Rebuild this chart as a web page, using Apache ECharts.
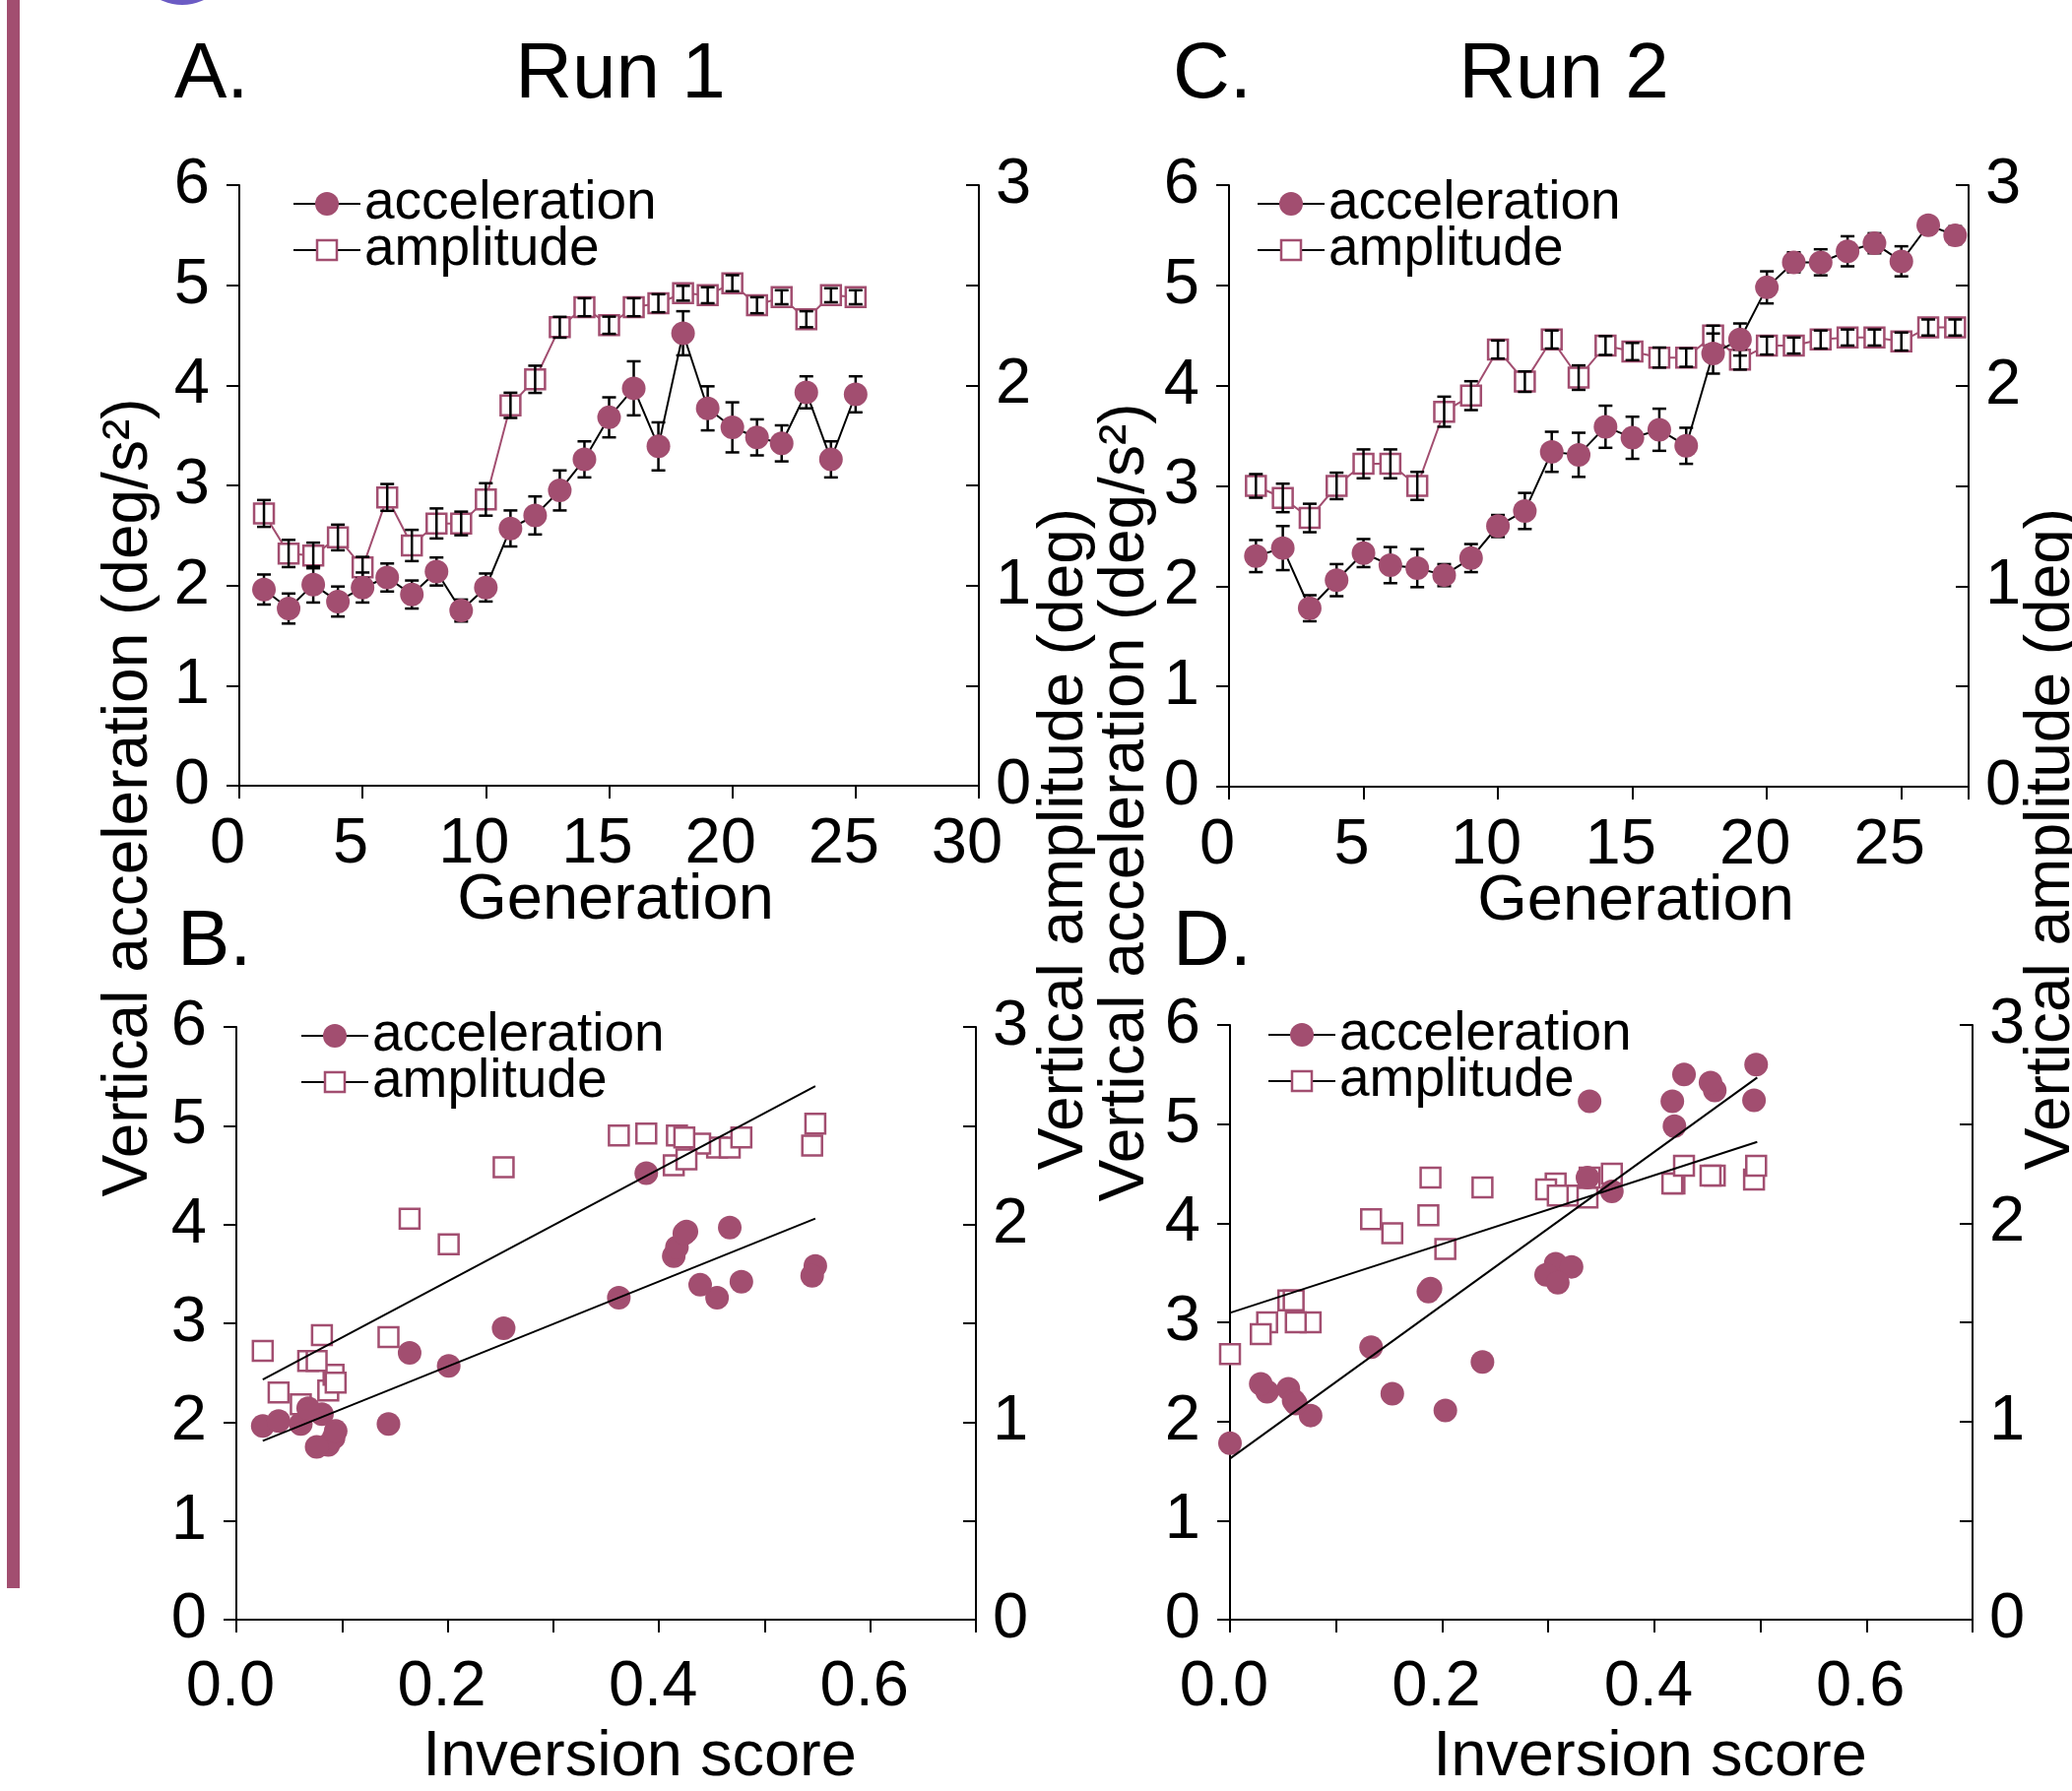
<!DOCTYPE html>
<html>
<head>
<meta charset="utf-8">
<title>Vertical acceleration and amplitude across generations</title>
<script src="https://cdn.jsdelivr.net/npm/echarts@6/dist/echarts.min.js"></script>
<style>
  html, body { margin: 0; padding: 0; background: #ffffff; }
  #chart { width: 2104px; height: 1819px; }
</style>
</head>
<body>
<div id="chart"></div>
<script>
// ---- Run 1 (panels A and B) ----
const gens1 = [1, 2, 3, 4, 5, 6, 7, 8, 9, 10, 11, 12, 13, 14, 15, 16, 17, 18, 19, 20, 21, 22, 23, 24, 25]
const accel1 = [1.96, 1.77, 2.01, 1.84, 1.98, 2.08, 1.91, 2.14, 1.75, 1.98, 2.57, 2.70, 2.95, 3.26, 3.68, 3.97, 3.39, 4.52, 3.77, 3.58, 3.48, 3.42, 3.93, 3.26, 3.91]
const accErr1 = [0.15, 0.15, 0.18, 0.15, 0.15, 0.14, 0.14, 0.14, 0.11, 0.14, 0.18, 0.19, 0.20, 0.18, 0.20, 0.27, 0.24, 0.22, 0.22, 0.25, 0.18, 0.18, 0.16, 0.18, 0.18]
const amp1 = [1.36, 1.16, 1.15, 1.24, 1.09, 1.44, 1.20, 1.31, 1.31, 1.43, 1.90, 2.03, 2.29, 2.39, 2.30, 2.39, 2.41, 2.46, 2.45, 2.51, 2.40, 2.44, 2.33, 2.45, 2.44]
const ampErr1 = [0.067, 0.068, 0.064, 0.064, 0.053, 0.067, 0.078, 0.075, 0.059, 0.081, 0.063, 0.068, 0.052, 0.045, 0.043, 0.045, 0.045, 0.037, 0.040, 0.040, 0.040, 0.035, 0.040, 0.035, 0.035]
const inv1 = [0.025, 0.087, 0.040, 0.092, 0.061, 0.081, 0.094, 0.068, 0.076, 0.144, 0.201, 0.164, 0.253, 0.455, 0.414, 0.467, 0.439, 0.388, 0.417, 0.548, 0.545, 0.478, 0.426, 0.362, 0.424]
// regression lines, end points
const fitAcc1 = [[0.025, 1.81], [0.548, 4.06]]
const fitAmp1 = [[0.025, 1.215], [0.548, 2.70]]

// ---- Run 2 (panels C and D) ----
const gens2 = [1, 2, 3, 4, 5, 6, 7, 8, 9, 10, 11, 12, 13, 14, 15, 16, 17, 18, 19, 20, 21, 22, 23, 24, 25, 26, 27]
const accel2 = [2.30, 2.38, 1.78, 2.06, 2.33, 2.21, 2.18, 2.11, 2.28, 2.60, 2.75, 3.34, 3.31, 3.59, 3.48, 3.56, 3.40, 4.32, 4.46, 4.98, 5.23, 5.23, 5.34, 5.42, 5.24, 5.60, 5.50]
const accErr2 = [0.16, 0.22, 0.13, 0.16, 0.14, 0.18, 0.19, 0.11, 0.14, 0.11, 0.18, 0.20, 0.22, 0.21, 0.21, 0.21, 0.18, 0.20, 0.16, 0.16, 0.10, 0.13, 0.15, 0.10, 0.15, 0.08, 0.09]
const amp2 = [1.50, 1.44, 1.34, 1.50, 1.61, 1.61, 1.50, 1.87, 1.95, 2.18, 2.02, 2.23, 2.04, 2.20, 2.17, 2.14, 2.14, 2.25, 2.13, 2.20, 2.20, 2.23, 2.24, 2.24, 2.22, 2.29, 2.29]
const ampErr2 = [0.059, 0.071, 0.071, 0.066, 0.072, 0.072, 0.070, 0.075, 0.072, 0.045, 0.051, 0.045, 0.061, 0.047, 0.043, 0.050, 0.046, 0.049, 0.050, 0.045, 0.040, 0.045, 0.040, 0.040, 0.045, 0.040, 0.040]
const inv2 = [0.035, 0.029, 0.000, 0.076, 0.055, 0.060, 0.062, 0.203, 0.153, 0.238, 0.133, 0.189, 0.187, 0.307, 0.298, 0.322, 0.309, 0.360, 0.337, 0.419, 0.417, 0.339, 0.457, 0.453, 0.494, 0.496, 0.428]
const fitAcc2 = [[0.0, 1.625], [0.497, 5.47]]
const fitAmp2 = [[0.0, 1.548], [0.497, 2.41]]

// ---- tick labels ----
const genTicks = [0, 5, 10, 15, 20, 25, 30]
const invLabels = [0, 0.2, 0.4, 0.6]
const accTicks = [0, 1, 2, 3, 4, 5, 6]
const ampLabels = [0, 1, 2, 3]

const FONT = 'Liberation Sans, Arial, Helvetica, sans-serif'
const PURPLE = '#a24e70'
const BLACK = '#000000'

const pairs = (xs, ys) => xs.map((x, i) => [x, ys[i]])
const errorData = (xs, ys, errs) => xs.map((x, i) => [x, ys[i] - errs[i], ys[i] + errs[i]])

function errorBar (params, api) {
  const x = api.value(0)
  const lo = api.coord([x, api.value(1)])
  const hi = api.coord([x, api.value(2)])
  const half = 7
  const style = { stroke: BLACK, lineWidth: 2.5 }
  return {
    type: 'group',
    children: [
      { type: 'line', shape: { x1: lo[0], y1: lo[1], x2: hi[0], y2: hi[1] }, style },
      { type: 'line', shape: { x1: lo[0] - half, y1: lo[1], x2: lo[0] + half, y2: lo[1] }, style },
      { type: 'line', shape: { x1: hi[0] - half, y1: hi[1], x2: hi[0] + half, y2: hi[1] }, style }
    ]
  }
}

const axisLine = { show: true, onZero: false, lineStyle: { color: BLACK, width: 2 } }
const tickOut = { show: true, length: 13, lineStyle: { color: BLACK, width: 2 } }
const tickIn = { show: true, inside: true, length: 13, lineStyle: { color: BLACK, width: 2 } }
const labelFont = { color: BLACK, fontSize: 65, fontFamily: FONT }
const nameFont = { color: BLACK, fontSize: 65, fontFamily: FONT }

function genAxis (gridIndex, max, shift) {
  return {
    type: 'value',
    gridIndex,
    min: 0,
    max,
    interval: 5,
    axisLine,
    axisTick: tickOut,
    splitLine: { show: false },
    axisLabel: {
      ...labelFont,
      margin: 28,
      padding: [0, 24, 0, 0],
      formatter: v => (genTicks.includes(v) ? String(v) : '')
    },
    name: 'Generation',
    nameLocation: 'middle',
    nameGap: 85,
    nameMoveOverlap: false,
    nameTextStyle: { ...nameFont, padding: [0, 0, 0, shift] }
  }
}

function invAxis (gridIndex, shift) {
  return {
    type: 'value',
    gridIndex,
    min: 0,
    max: 0.7,
    interval: 0.1,
    axisLine,
    axisTick: tickOut,
    splitLine: { show: false },
    axisLabel: {
      ...labelFont,
      margin: 37,
      padding: [0, 12, 0, 0],
      formatter: v => (invLabels.some(l => Math.abs(l - v) < 1e-6) ? v.toFixed(1) : '')
    },
    name: 'Inversion score',
    nameLocation: 'middle',
    nameGap: 108,
    nameMoveOverlap: false,
    nameTextStyle: { ...nameFont, padding: [0, 0, 0, shift] }
  }
}

function accAxis (gridIndex) {
  return {
    type: 'value',
    gridIndex,
    position: 'left',
    min: 0,
    max: 6,
    interval: 1,
    axisLine,
    axisTick: tickOut,
    splitLine: { show: false },
    axisLabel: { ...labelFont, margin: 30, formatter: v => (accTicks.includes(v) ? String(v) : '') }
  }
}

function ampAxis (gridIndex) {
  return {
    type: 'value',
    gridIndex,
    position: 'right',
    min: 0,
    max: 3,
    interval: 0.5,
    axisLine,
    axisTick: tickIn,
    splitLine: { show: false },
    axisLabel: { ...labelFont, margin: 17, formatter: v => (ampLabels.includes(v) ? String(v) : '') }
  }
}

// x axis index, left y index, right y index
function timeSeries (xi, yl, yr, gens, acc, accErr, amp, ampErr) {
  return [
    {
      type: 'line', name: 'amplitude', xAxisIndex: xi, yAxisIndex: yr,
      data: pairs(gens, amp), symbol: 'rect', symbolSize: 20,
      lineStyle: { color: PURPLE, width: 2 },
      itemStyle: { color: '#ffffff', borderColor: PURPLE, borderWidth: 2.5 },
      z: 2
    },
    { type: 'custom', xAxisIndex: xi, yAxisIndex: yr, renderItem: errorBar, data: errorData(gens, amp, ampErr), z: 3 },
    { type: 'custom', xAxisIndex: xi, yAxisIndex: yl, renderItem: errorBar, data: errorData(gens, acc, accErr), z: 3 },
    {
      type: 'line', name: 'acceleration', xAxisIndex: xi, yAxisIndex: yl,
      data: pairs(gens, acc), symbol: 'circle', symbolSize: 24,
      lineStyle: { color: BLACK, width: 2 },
      itemStyle: { color: PURPLE },
      z: 4
    }
  ]
}

function scatterSeries (xi, yl, yr, inv, acc, amp, fitAcc, fitAmp) {
  return [
    {
      type: 'scatter', xAxisIndex: xi, yAxisIndex: yr, data: pairs(inv, amp),
      symbol: 'rect', symbolSize: 20,
      itemStyle: { color: '#ffffff', borderColor: PURPLE, borderWidth: 2.5, opacity: 1 },
      z: 2
    },
    {
      type: 'scatter', xAxisIndex: xi, yAxisIndex: yl, data: pairs(inv, acc),
      symbol: 'circle', symbolSize: 24,
      itemStyle: { color: PURPLE, opacity: 1 },
      z: 3
    },
    { type: 'line', xAxisIndex: xi, yAxisIndex: yl, data: fitAcc, symbol: 'none', lineStyle: { color: BLACK, width: 2 }, z: 4 },
    { type: 'line', xAxisIndex: xi, yAxisIndex: yr, data: fitAmp, symbol: 'none', lineStyle: { color: BLACK, width: 2 }, z: 4 }
  ]
}

function text (str, x, y, size, align, rotation) {
  return {
    type: 'text',
    x,
    y,
    rotation: rotation || 0,
    style: {
      text: str,
      font: size + 'px ' + FONT,
      fill: BLACK,
      align,
      textAlign: align,
      verticalAlign: 'middle',
      textVerticalAlign: 'middle'
    }
  }
}

// hand-drawn legend keys: "-o- acceleration" / "-□- amplitude"
function legendKey (x, y1, y2) {
  const stroke = { stroke: BLACK, lineWidth: 2 }
  return [
    { type: 'line', shape: { x1: x, y1, x2: x + 68, y2: y1 }, style: stroke },
    { type: 'circle', shape: { cx: x + 34, cy: y1, r: 12 }, style: { fill: PURPLE } },
    text('acceleration', x + 72, y1, 55, 'left'),
    { type: 'line', shape: { x1: x, y1: y2, x2: x + 68, y2 }, style: stroke },
    { type: 'rect', shape: { x: x + 24, y: y2 - 10, width: 20, height: 20 }, style: { fill: '#ffffff', stroke: PURPLE, lineWidth: 2.5 } },
    text('amplitude', x + 72, y2, 55, 'left')
  ]
}

const chart = echarts.init(document.getElementById('chart'), null, { renderer: 'canvas' })

const option = {
  backgroundColor: '#ffffff',
  animation: false,
  textStyle: { fontFamily: FONT },
  grid: [
    { left: 243, top: 188, width: 751, height: 610 }, // A
    { left: 240, top: 1043, width: 751, height: 610 }, // B
    { left: 1248, top: 188, width: 751, height: 611 }, // C
    { left: 1249, top: 1041, width: 754, height: 610 } // D
  ],
  xAxis: [
    genAxis(0, 30, 13),
    invAxis(1, 68),
    genAxis(2, 27.5, 75),
    invAxis(3, 99)
  ],
  yAxis: [
    accAxis(0), ampAxis(0),
    accAxis(1), ampAxis(1),
    accAxis(2), ampAxis(2),
    accAxis(3), ampAxis(3)
  ],
  series: [
    ...timeSeries(0, 0, 1, gens1, accel1, accErr1, amp1, ampErr1),
    ...scatterSeries(1, 2, 3, inv1, accel1, amp1, fitAcc1, fitAmp1),
    ...timeSeries(2, 4, 5, gens2, accel2, accErr2, amp2, ampErr2),
    ...scatterSeries(3, 6, 7, inv2, accel2, amp2, fitAcc2, fitAmp2)
  ],
  graphic: [
    { type: 'rect', shape: { x: 7, y: 0, width: 13, height: 1613 }, style: { fill: PURPLE } },
    { type: 'circle', shape: { cx: 185, cy: -46, r: 51 }, style: { fill: '#6b5bc4' } },
    text('A.', 177, 77, 80, 'left'),
    text('Run 1', 630, 77, 80, 'center'),
    text('B.', 180, 958, 80, 'left'),
    text('C.', 1191, 77, 80, 'left'),
    text('Run 2', 1588, 77, 80, 'center'),
    text('D.', 1191, 958, 80, 'left'),
    text('Vertical acceleration (deg/s²)', 131, 810, 64, 'center', Math.PI / 2),
    text('Vertical amplitude (deg)', 1081, 852, 64, 'center', Math.PI / 2),
    text('Vertical acceleration (deg/s²)', 1143, 815, 64, 'center', Math.PI / 2),
    text('Vertical amplitude (deg)', 2083, 852, 64, 'center', Math.PI / 2),
    ...legendKey(298, 207, 254),
    ...legendKey(306, 1052, 1099),
    ...legendKey(1277, 207, 254),
    ...legendKey(1288, 1051, 1098)
  ]
}

chart.setOption(option, true)
window.addEventListener('resize', () => chart.resize())
</script>
</body>
</html>
